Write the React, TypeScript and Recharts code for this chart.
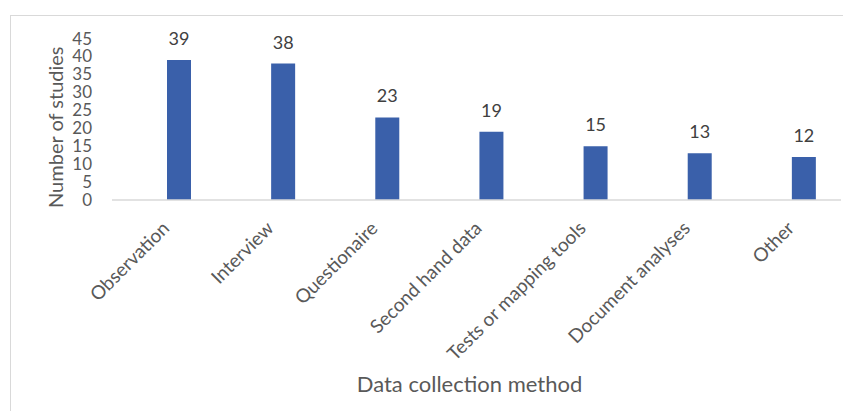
import { BarChart, Bar, XAxis, YAxis, LabelList } from "recharts";

const methods = [
  "Observation",
  "Interview",
  "Questionaire",
  "Second hand data",
  "Tests or mapping tools",
  "Document analyses",
  "Other",
];
const studies = [39, 38, 23, 19, 15, 13, 12];
const yTicks = [0, 5, 10, 15, 20, 25, 30, 35, 40, 45];

const data = methods.map((method, i) => ({ method, studies: studies[i] }));

const FONT = "Lato, 'Open Sans', sans-serif";
const GREY = "#595959";

export default function App() {
  return (
    <div style={{ paddingTop: 7, paddingLeft: 2 }}>
      <div
        style={{
          width: 840,
          height: 395,
          borderTop: "1px solid #d9d9d9",
          borderLeft: "1px solid #d9d9d9",
          fontFamily: FONT,
        }}
      >
        <BarChart
          width={840}
          height={395}
          data={data}
          margin={{ top: 22.5, right: 10, left: 20, bottom: 0 }}
          barSize={24}
          barGap={6}
        >
          <XAxis
            dataKey="method"
            interval={0}
            angle={-45}
            textAnchor="end"
            height={211}
            tickLine={false}
            tickSize={12}
            tickMargin={8}
            axisLine={{ stroke: "#d9d9d9", strokeWidth: 1.5 }}
            tick={{ fontSize: 19, fill: GREY, fontFamily: FONT, dx: -3 }}
            label={{
              content: ({ viewBox }: any) => (
                <text
                  x={viewBox.x + viewBox.width / 2 - 7}
                  y={viewBox.y + 192}
                  textAnchor="middle"
                  fontSize={22}
                  fill={GREY}
                  fontFamily={FONT}
                >
                  Data collection method
                </text>
              ),
            }}
          />
          <YAxis
            domain={[0, 45]}
            ticks={yTicks}
            interval={0}
            width={81}
            axisLine={false}
            tickLine={false}
            tickSize={0}
            tickMargin={20}
            tick={{ fontSize: 17, fill: GREY, fontFamily: FONT }}
            label={{
              content: ({ viewBox }: any) => {
                const x = viewBox.x + 24;
                const y = viewBox.y + viewBox.height / 2 + 8;
                return (
                  <text
                    x={x}
                    y={y}
                    transform={`rotate(-90 ${x} ${y})`}
                    textAnchor="middle"
                    dominantBaseline="central"
                    fontSize={20}
                    fill={GREY}
                    fontFamily={FONT}
                  >
                    Number  of studies
                  </text>
                );
              },
            }}
          />
          {/* empty first series, as in the source workbook: it pushes the bars right of centre */}
          <Bar dataKey="blank" fill="#3a60aa" isAnimationActive={false} legendType="none" />
          <Bar dataKey="studies" fill="#3a60aa" isAnimationActive={false}>
            <LabelList
              dataKey="studies"
              position="top"
              offset={15}
              fill="#404040"
              fontSize={18}
              fontFamily={FONT}
            />
          </Bar>
        </BarChart>
      </div>
    </div>
  );
}
